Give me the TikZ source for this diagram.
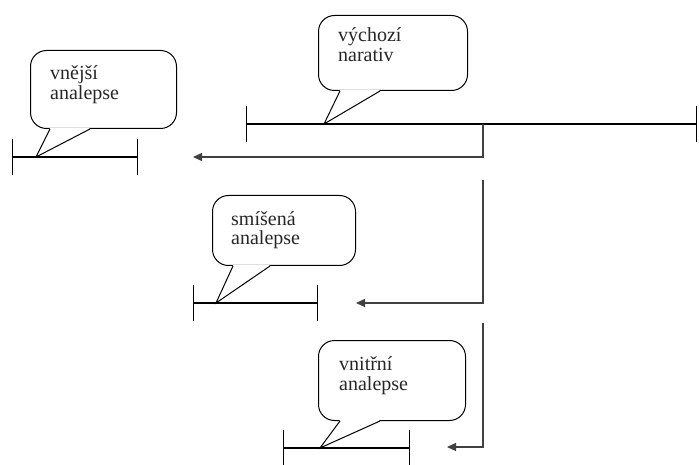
\documentclass[tikz,border=0pt]{standalone}
\usepackage{fontspec}
\setmainfont{Liberation Serif}
\usetikzlibrary{arrows.meta}
\tikzset{
  bubble/.style={draw, line width=1pt, rounded corners=16pt, inner sep=0pt, anchor=north west},
  bubbletext/.style={anchor=base west, inner sep=0pt, align=left, text=black!85, font=\fontsize{20}{20}\selectfont},
  timeline/.style={line width=1.3pt, {Bar[width=36pt]}-{Bar[width=36pt]}},
  jump/.style={line width=1.2pt, black!75, -{Triangle[length=9pt,width=8pt]}},
}
% pointer of a speech bubble: box, left and right offset of the base, tip
\newcommand{\bubbleptr}[4]{%
  \fill[white] ([shift={(#2,-0.8)}]#1.south west) -- (#4) -- ([shift={(#3,-0.8)}]#1.south west) -- cycle;
  \draw[line width=1pt, line join=miter] ([xshift=#2pt]#1.south west) -- (#4) -- ([xshift=#3pt]#1.south west);}
\begin{document}
\begin{tikzpicture}[x=1pt,y=-1pt]
  \useasboundingbox (0,0) rectangle (699,465);
  % time lines
  \coordinate (t0s) at (246,124); \coordinate (t0e) at (697,124);
  \coordinate (t1s) at (12,157);  \coordinate (t1e) at (138,157);
  \coordinate (t2s) at (193,303); \coordinate (t2e) at (318,303);
  \coordinate (t3s) at (283,448); \coordinate (t3e) at (410,448);
  % bubble tips
  \coordinate (tip0) at (324,124);
  \coordinate (tip1) at (36,157);
  \coordinate (tip2) at (216,303);
  \coordinate (tip3) at (320,448);
  % jumps
  \coordinate (j1) at (483,124); \coordinate (a1) at (193,157);
  \coordinate (j2) at (483,180); \coordinate (a2) at (356,303);
  \coordinate (j3) at (483,323); \coordinate (a3) at (447,447);

  \node[bubble, minimum width=149, minimum height=75] (vychozi) at (318,15) {};
  \node[bubbletext] (vychozitext) at ([shift={(20,47)}]vychozi.north west) {výchozí\\narativ};
  \bubbleptr{vychozi}{22}{62}{tip0}

  \node[bubble, minimum width=146, minimum height=78] (vnejsi) at (30,50) {};
  \node[bubbletext] (vnejsitext) at ([shift={(20,50)}]vnejsi.north west) {vnější\\analepse};
  \bubbleptr{vnejsi}{20}{60}{tip1}

  \node[bubble, minimum width=143, minimum height=70] (smisena) at (212,195) {};
  \node[bubbletext] (smisenatext) at ([shift={(19,50)}]smisena.north west) {smíšená\\analepse};
  \bubbleptr{smisena}{21}{58}{tip2}

  \node[bubble, minimum width=147, minimum height=80] (vnitrni) at (318,340) {};
  \node[bubbletext] (vnitrnitext) at ([shift={(21,50)}]vnitrni.north west) {vnitřní\\analepse};
  \bubbleptr{vnitrni}{22}{62}{tip3}

  \draw[timeline] (t0s) -- (t0e);
  \draw[timeline] (t1s) -- (t1e);
  \draw[timeline] (t2s) -- (t2e);
  \draw[timeline] (t3s) -- (t3e);

  \draw[jump] (j1) |- (a1);
  \draw[jump] (j2) |- (a2);
  \draw[jump] (j3) |- (a3);
\end{tikzpicture}
\end{document}
